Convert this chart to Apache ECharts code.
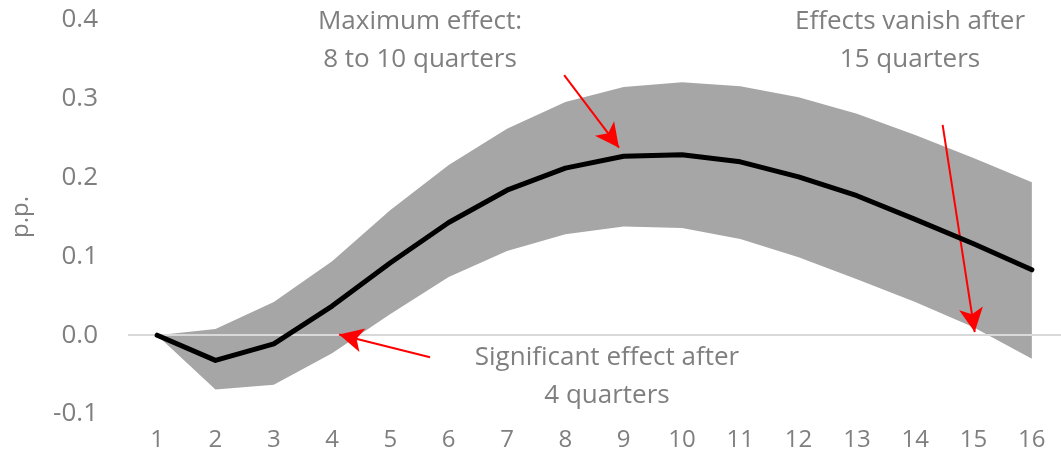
<!DOCTYPE html>
<html>
<head>
<meta charset="utf-8">
<script src="https://cdn.jsdelivr.net/npm/echarts@6/dist/echarts.min.js"></script>
<style>
  html, body { margin: 0; padding: 0; background: #fff; }
  #chart { width: 1061px; height: 469px; }
</style>
</head>
<body>
<div id="chart"></div>
<script>
// quarters after the shock
var quarters = ['1','2','3','4','5','6','7','8','9','10','11','12','13','14','15','16'];
// point estimate (p.p.)
var effect = [0, -0.032, -0.011, 0.037, 0.092, 0.143, 0.184, 0.212, 0.227, 0.229, 0.220, 0.201, 0.177, 0.147, 0.116, 0.083];
// confidence band
var upper = [0, 0.008, 0.042, 0.094, 0.159, 0.216, 0.262, 0.296, 0.315, 0.321, 0.316, 0.302, 0.281, 0.254, 0.225, 0.194];
var lower = [0, -0.069, -0.063, -0.023, 0.027, 0.074, 0.107, 0.128, 0.138, 0.136, 0.122, 0.099, 0.071, 0.042, 0.010, -0.030];
var yTicks = [-0.1, 0.0, 0.1, 0.2, 0.3, 0.4];

var grey = '#7f7f7f';
var chart = echarts.init(document.getElementById('chart'));

// arrows: [from, to] in data units (x on the hidden value axis)
var arrows = [
  [[7.98, 0.330], [8.92, 0.238]],
  [[5.68, -0.028], [4.12, 0.001]],
  [[14.47, 0.267], [15.02, 0.004]]
];

function note(x, y, text) {
  return {
    type: 'text', x: x, y: y, z: 10,
    style: { text: text, fill: grey, font: '26px "Open Sans"', lineHeight: 38, align: 'center', verticalAlign: 'top' }
  };
}

chart.setOption({
  animation: false,
  grid: { left: 128, right: -5, top: 20, bottom: 55 },
  xAxis: [{
    type: 'category',
    data: quarters,
    boundaryGap: true,
    axisLine: { show: false },
    axisTick: { show: false },
    axisLabel: { color: grey, fontSize: 24, fontFamily: 'Open Sans', margin: 14 }
  }, {
    type: 'value',
    min: 0.5, max: 16.5,
    show: false
  }],
  yAxis: {
    type: 'value',
    min: yTicks[0], max: yTicks[yTicks.length - 1], interval: 0.1,
    name: 'p.p.',
    nameLocation: 'middle',
    nameGap: 95,
    nameTextStyle: { color: grey, fontSize: 24, fontFamily: 'Open Sans' },
    axisLine: { show: false },
    axisTick: { show: false },
    splitLine: { show: false },
    axisLabel: {
      color: grey, fontSize: 26, fontFamily: 'Open Sans', margin: 30,
      formatter: function (v) { return v.toFixed(1); }
    }
  },
  series: [{
    name: 'lower',
    type: 'line',
    data: lower,
    stack: 'band',
    stackStrategy: 'all',
    symbol: 'none',
    lineStyle: { opacity: 0 },
    silent: true
  }, {
    name: 'band',
    type: 'line',
    data: upper.map(function (u, i) { return u - lower[i]; }),
    stack: 'band',
    stackStrategy: 'all',
    symbol: 'none',
    lineStyle: { opacity: 0 },
    areaStyle: { color: '#a6a6a6', opacity: 1 },
    silent: true
  }, {
    name: 'effect',
    type: 'line',
    data: effect,
    symbol: 'none',
    z: 5,
    lineStyle: { color: '#000', width: 5, cap: 'round', join: 'round' }
  }, {
    name: 'zero',
    type: 'line',
    xAxisIndex: 1,
    data: [],
    z: 4,
    markLine: {
      silent: true,
      symbol: ['none', 'none'],
      label: { show: false },
      lineStyle: { color: '#d9d9d9', width: 2, type: 'solid' },
      data: [{ yAxis: 0 }]
    }
  }, {
    name: 'arrows',
    type: 'line',
    xAxisIndex: 1,
    data: [],
    z: 6,
    markLine: {
      silent: true,
      symbol: ['none', 'arrow'],
      symbolSize: [18, 24],
      label: { show: false },
      lineStyle: { color: '#ff0000', width: 2, type: 'solid' },
      data: arrows.map(function (a) {
        return [{ coord: a[0] }, { coord: a[1] }];
      })
    }
  }],
  graphic: [
    note(420, 3, 'Maximum effect:\n8 to 10 quarters'),
    note(910, 3, 'Effects vanish after\n15 quarters'),
    note(607, 339, 'Significant effect after\n4 quarters')
  ]
});
</script>
</body>
</html>
